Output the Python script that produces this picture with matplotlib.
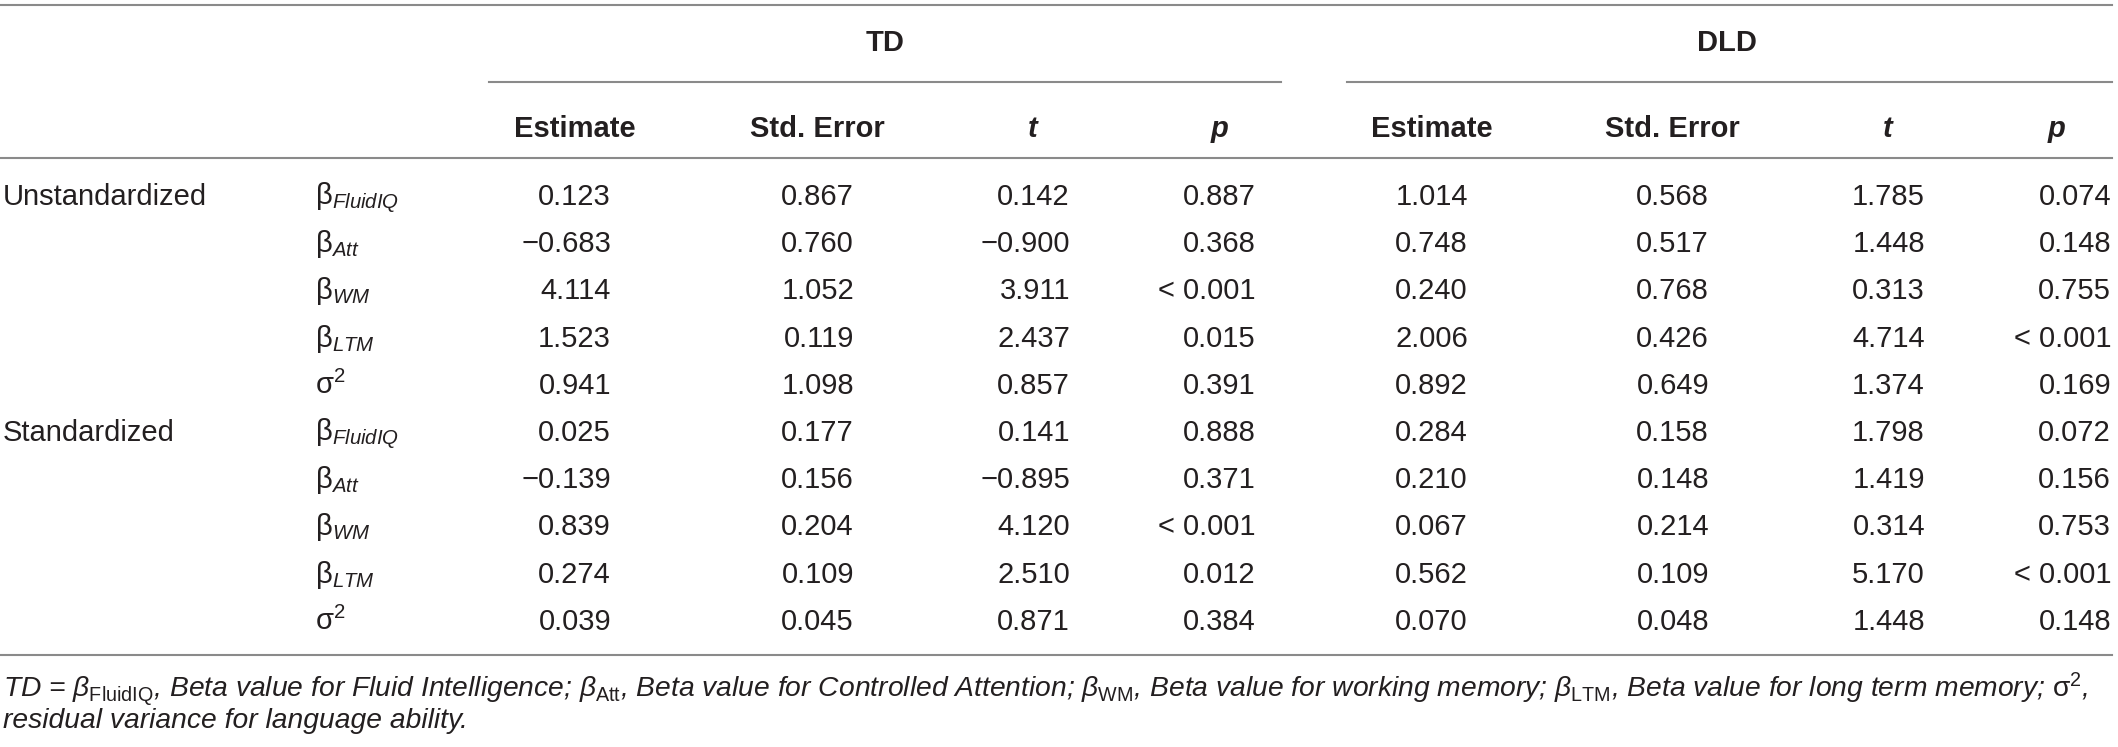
import matplotlib
matplotlib.use('Agg')
import matplotlib.pyplot as plt
from matplotlib import font_manager

# ---- table content ----
groups = ['TD', 'DLD']
columns = ['Estimate', 'Std. Error', 't', 'p']
sections = ['Unstandardized', 'Standardized']
params = [r'$\mathrm{\beta}_{FluidIQ}$', r'$\mathrm{\beta}_{Att}$', r'$\mathrm{\beta}_{WM}$',
          r'$\mathrm{\beta}_{LTM}$', r'$\mathrm{\sigma}^{2}$']

td_unstd = [['0.123', '0.867', '0.142', '0.887'],
            ['−0.683', '0.760', '−0.900', '0.368'],
            ['4.114', '1.052', '3.911', '< 0.001'],
            ['1.523', '0.119', '2.437', '0.015'],
            ['0.941', '1.098', '0.857', '0.391']]
dld_unstd = [['1.014', '0.568', '1.785', '0.074'],
             ['0.748', '0.517', '1.448', '0.148'],
             ['0.240', '0.768', '0.313', '0.755'],
             ['2.006', '0.426', '4.714', '< 0.001'],
             ['0.892', '0.649', '1.374', '0.169']]
td_std = [['0.025', '0.177', '0.141', '0.888'],
          ['−0.139', '0.156', '−0.895', '0.371'],
          ['0.839', '0.204', '4.120', '< 0.001'],
          ['0.274', '0.109', '2.510', '0.012'],
          ['0.039', '0.045', '0.871', '0.384']]
dld_std = [['0.284', '0.158', '1.798', '0.072'],
           ['0.210', '0.148', '1.419', '0.156'],
           ['0.067', '0.214', '0.314', '0.753'],
           ['0.562', '0.109', '5.170', '< 0.001'],
           ['0.070', '0.048', '1.448', '0.148']]

footnote_1 = (r'TD = $\beta_{\mathrm{FluidIQ}}$, Beta value for Fluid Intelligence; '
              r'$\beta_{\mathrm{Att}}$, Beta value for Controlled Attention; '
              r'$\beta_{\mathrm{WM}}$, Beta value for working memory; '
              r'$\beta_{\mathrm{LTM}}$, Beta value for long term memory; $\mathrm{\sigma}^{2}$,')
footnote_2 = 'residual variance for language ability.'

# ---- fonts ----
installed = {f.name for f in font_manager.fontManager.ttflist}
note_font = 'Liberation Sans Narrow' if 'Liberation Sans Narrow' in installed else 'Liberation Sans'

plt.rcParams['font.family'] = ['Liberation Sans', 'DejaVu Sans']
plt.rcParams['mathtext.fontset'] = 'custom'
plt.rcParams['mathtext.rm'] = 'Liberation Sans'
plt.rcParams['mathtext.it'] = 'Liberation Sans:italic'
plt.rcParams['mathtext.bf'] = 'Liberation Sans:bold'

TXT = '#231f20'
LINE = '#8a8a8a'
FS = 21

# ---- layout (pixels) ----
W, H = 2118, 747
value_right = [611, 854, 1070, 1256, 1468, 1709, 1925, 2111]
header_center = [575, 817, 1033, 1220, 1432, 1672, 1888, 2057]
group_center = [885, 1727]
group_span = [(489, 1281), (1347, 2112)]
row0, row_step = 205, 47.2

fig = plt.figure(figsize=(W / 100, H / 100), dpi=100)
ax = fig.add_axes([0, 0, 1, 1])
ax.set_xlim(0, W)
ax.set_ylim(H, 0)
ax.axis('off')

# rules
lw = 1.5
ax.plot([0, 2112], [5, 5], color=LINE, lw=lw)
for x0, x1 in group_span:
    ax.plot([x0, x1], [82, 82], color=LINE, lw=lw)
ax.plot([0, 2112], [158, 158], color=LINE, lw=lw)
ax.plot([0, 2112], [655, 655], color=LINE, lw=lw)

# group headers
for g, xc in zip(groups, group_center):
    ax.text(xc, 43, g, ha='center', va='center', fontsize=FS, fontweight='bold', color=TXT)

# column headers
for i, xc in enumerate(header_center):
    name = columns[i % 4]
    style = 'italic' if name in ('t', 'p') else 'normal'
    ax.text(xc, 137, name, ha='center', va='baseline', fontsize=FS,
            fontweight='bold', style=style, color=TXT)

# body
blocks = [(td_unstd, dld_unstd), (td_std, dld_std)]
for s, (td_rows, dld_rows) in enumerate(blocks):
    for r in range(len(params)):
        y = row0 + row_step * (s * len(params) + r)
        if r == 0:
            ax.text(3, y, sections[s], ha='left', va='baseline', fontsize=FS, color=TXT)
        ax.text(315, y, params[r], ha='left', va='baseline', fontsize=FS, color=TXT)
        cells = td_rows[r] + dld_rows[r]
        for c, val in enumerate(cells):
            ax.text(value_right[c], y, val, ha='right', va='baseline', fontsize=FS, color=TXT)

# footnote, scaled to the reference line width
if note_font != 'Liberation Sans':
    plt.rcParams['mathtext.rm'] = note_font
    plt.rcParams['mathtext.it'] = note_font + ':italic'
f1 = ax.text(3, 698, footnote_1, ha='left', va='baseline', fontsize=18,
             style='italic', color=TXT, family=note_font)
fig.canvas.draw()
w = f1.get_window_extent().width
fs_note = min(18 * 2086 / w, 21)
f1.set_fontsize(fs_note)
ax.text(3, 728, footnote_2, ha='left', va='baseline', fontsize=fs_note,
        style='italic', color=TXT, family=note_font)

fig.savefig('out.png', dpi=100)
